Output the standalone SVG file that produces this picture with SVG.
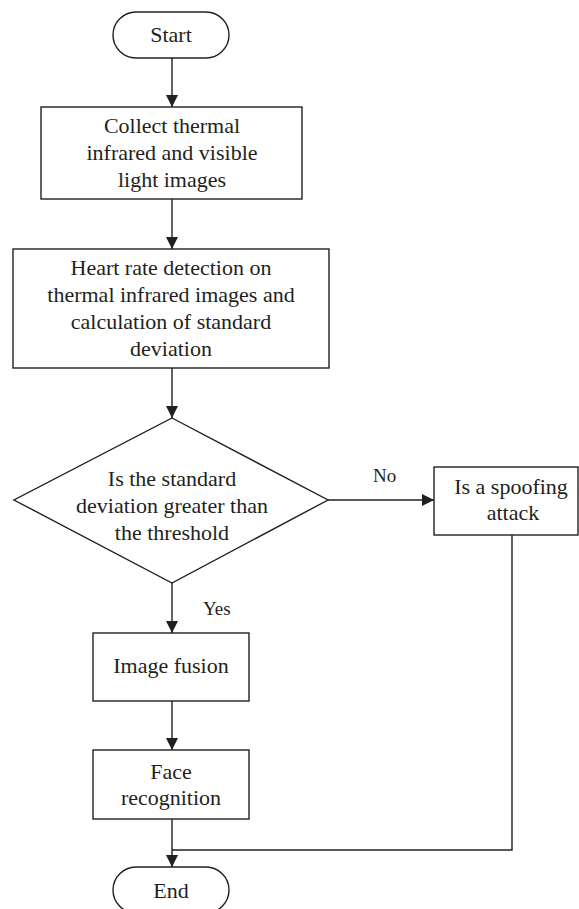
<svg xmlns="http://www.w3.org/2000/svg" width="579" height="909" viewBox="0 0 579 909">
<defs>
<style>
.s{fill:#fff;stroke:#231f20;stroke-width:1.4}
.c{fill:none;stroke:#231f20;stroke-width:1.4}
text{font-family:'Liberation Serif',serif;font-size:22px;fill:#231f20;text-anchor:middle}
.l{font-size:19px;text-anchor:start}
</style>
<marker id="a" markerUnits="userSpaceOnUse" markerWidth="12" markerHeight="14" viewBox="0 0 12 14" refX="12" refY="7" orient="auto">
<path d="M0,1 L12,7 L0,13 Z" fill="#231f20"/>
</marker>
</defs>
<rect width="579" height="909" fill="#fff"/>
<g id="connectors">
<path class="c" d="M172,58 V107" marker-end="url(#a)"/>
<path class="c" d="M172,199 V249" marker-end="url(#a)"/>
<path class="c" d="M172,368 V418" marker-end="url(#a)"/>
<path class="c" d="M172,583 V633" marker-end="url(#a)"/>
<path class="c" d="M172,701 V750" marker-end="url(#a)"/>
<path class="c" d="M172,819 V867" marker-end="url(#a)"/>
<path class="c" d="M328,500 H434" marker-end="url(#a)"/>
<path class="c" d="M512,535 V850 H172"/>
<text class="l" x="203" y="615">Yes</text>
<text class="l" x="373" y="482">No</text>
</g>
<g id="start">
<rect class="s" x="113" y="12" width="116" height="46" rx="23"/>
<text x="171" y="42">Start</text>
</g>
<g id="collect">
<rect class="s" x="41" y="107" width="261" height="92"/>
<text x="172" y="133">Collect thermal</text>
<text x="172" y="160">infrared and visible</text>
<text x="172" y="187">light images</text>
</g>
<g id="heart">
<rect class="s" x="13" y="249" width="316" height="119"/>
<text x="171" y="275">Heart rate detection on</text>
<text x="171" y="302">thermal infrared images and</text>
<text x="171" y="329">calculation of standard</text>
<text x="171" y="356">deviation</text>
</g>
<g id="decision">
<polygon class="s" points="172,418 328,500 172,583 14,500"/>
<text x="172" y="486">Is the standard</text>
<text x="172" y="513">deviation greater than</text>
<text x="172" y="540">the threshold</text>
</g>
<g id="spoof">
<rect class="s" x="434" y="467" width="144" height="68"/>
<text x="511" y="494">Is a spoofing</text>
<text x="513" y="520">attack</text>
</g>
<g id="fusion">
<rect class="s" x="93" y="633" width="156" height="68"/>
<text x="171" y="673">Image fusion</text>
</g>
<g id="face">
<rect class="s" x="93" y="750" width="156" height="69"/>
<text x="171" y="779">Face</text>
<text x="171" y="805">recognition</text>
</g>
<g id="end">
<rect class="s" x="113" y="867" width="116" height="46" rx="23"/>
<text x="171" y="898">End</text>
</g>
</svg>
